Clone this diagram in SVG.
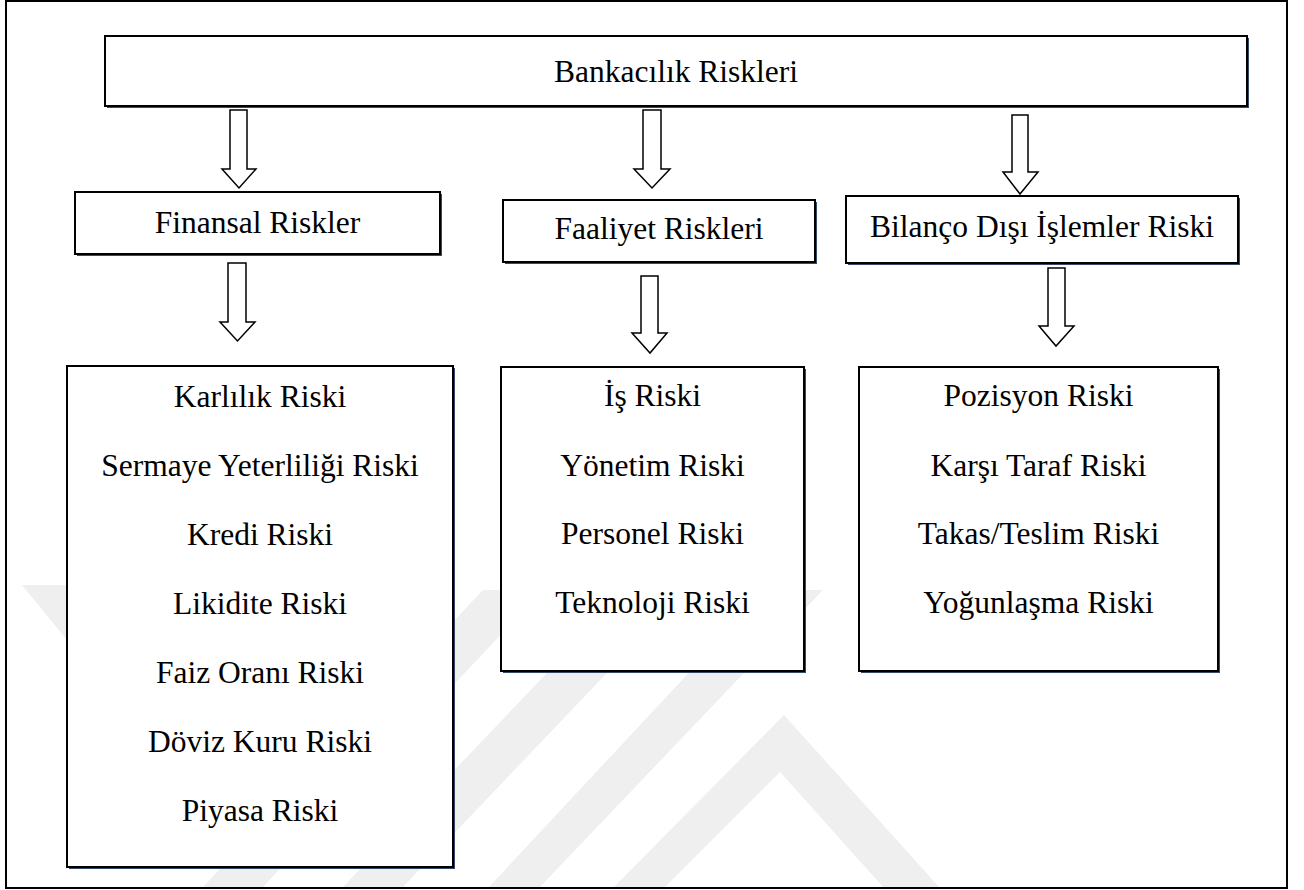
<svg xmlns="http://www.w3.org/2000/svg" width="1304" height="890" viewBox="0 0 1304 890">
  <defs>
    <style>
      .wm { fill: #efefef; stroke: none; }
      .shadow { fill: #34496b; stroke: none; }
      .box { fill: #ffffff; stroke: #000000; stroke-width: 2; }
      .arrow { fill: #ffffff; stroke: #000000; stroke-width: 1.5; stroke-linejoin: miter; }
      .label { font-size: 31.5px; fill: #000000; text-anchor: middle; }
    </style>
  </defs>
  <rect x="0" y="0" width="1304" height="890" fill="#ffffff"/>

  <g id="watermark">
    <polygon class="wm" points="22,585 80,585 67,600 67,640"/>
    <polygon class="wm" points="483,590 543,590 262,888 202,888"/>
    <polygon class="wm" points="626,590 686,590 402,888 342,888"/>
    <polygon class="wm" points="766,590 823,590 539,888 488,888"/>
    <polygon class="wm" points="784,715 940,888 884,888 780,772 664,888 613,888"/>
  </g>

  <rect x="6" y="1" width="1281" height="887" fill="none" stroke="#000" stroke-width="2"/>

  <g id="connectors">
    <polygon class="arrow" points="230,110 247,110 247,169 256,169 239,188 222,169 230,169"/>
    <polygon class="arrow" points="228,263 246,263 246,322 255,322 237.5,341 220,322 228,322"/>
    <polygon class="arrow" points="643,110 661,110 661,169 670,169 652,188 634,169 643,169"/>
    <polygon class="arrow" points="641,276 658,276 658,333 667,333 650,353 632,333 641,333"/>
    <polygon class="arrow" points="1012,115 1028,115 1028,172 1038,172 1020,194 1003,172 1012,172"/>
    <polygon class="arrow" points="1048,268 1065,268 1065,326 1074,326 1056,346 1039,326 1048,326"/>
  </g>

  <g font-family="'Liberation Serif', 'DejaVu Serif', 'Times New Roman', serif">
  <g id="node-bankacilik">
    <rect class="shadow" x="107" y="38" width="1142" height="70"/>
    <rect class="box" x="105" y="36" width="1142" height="70"/>
    <text class="label" x="676" y="82">Bankacılık Riskleri</text>
  </g>

  <g id="node-finansal">
    <rect class="shadow" x="77" y="194" width="365" height="62"/>
    <rect class="box" x="75" y="192" width="365" height="62"/>
    <text class="label" x="257.5" y="233">Finansal Riskler</text>
  </g>

  <g id="node-faaliyet">
    <rect class="shadow" x="505" y="202" width="312" height="62"/>
    <rect class="box" x="503" y="200" width="312" height="62"/>
    <text class="label" x="659" y="239">Faaliyet Riskleri</text>
  </g>

  <g id="node-bilanco">
    <rect class="shadow" x="848" y="198" width="392" height="67"/>
    <rect class="box" x="846" y="196" width="392" height="67"/>
    <text class="label" x="1042" y="237">Bilanço Dışı İşlemler Riski</text>
  </g>

  <g id="node-finansal-list">
    <rect class="shadow" x="69" y="368" width="386" height="501"/>
    <rect class="box" x="67" y="366" width="386" height="501"/>
    <text class="label" x="260" y="407">Karlılık Riski</text>
    <text class="label" x="260" y="476">Sermaye Yeterliliği Riski</text>
    <text class="label" x="260" y="545">Kredi Riski</text>
    <text class="label" x="260" y="614">Likidite Riski</text>
    <text class="label" x="260" y="683">Faiz Oranı Riski</text>
    <text class="label" x="260" y="752">Döviz Kuru Riski</text>
    <text class="label" x="260" y="821">Piyasa Riski</text>
  </g>

  <g id="node-faaliyet-list">
    <rect class="shadow" x="503" y="369" width="303" height="304"/>
    <rect class="box" x="501" y="367" width="303" height="304"/>
    <text class="label" x="652.5" y="406">İş Riski</text>
    <text class="label" x="652.5" y="476">Yönetim Riski</text>
    <text class="label" x="652.5" y="544">Personel Riski</text>
    <text class="label" x="652.5" y="613">Teknoloji Riski</text>
  </g>

  <g id="node-bilanco-list">
    <rect class="shadow" x="861" y="369" width="359" height="304"/>
    <rect class="box" x="859" y="367" width="359" height="304"/>
    <text class="label" x="1038.5" y="406">Pozisyon Riski</text>
    <text class="label" x="1038.5" y="476">Karşı Taraf Riski</text>
    <text class="label" x="1038.5" y="544">Takas/Teslim Riski</text>
    <text class="label" x="1038.5" y="613">Yoğunlaşma Riski</text>
  </g>
  </g>
</svg>
